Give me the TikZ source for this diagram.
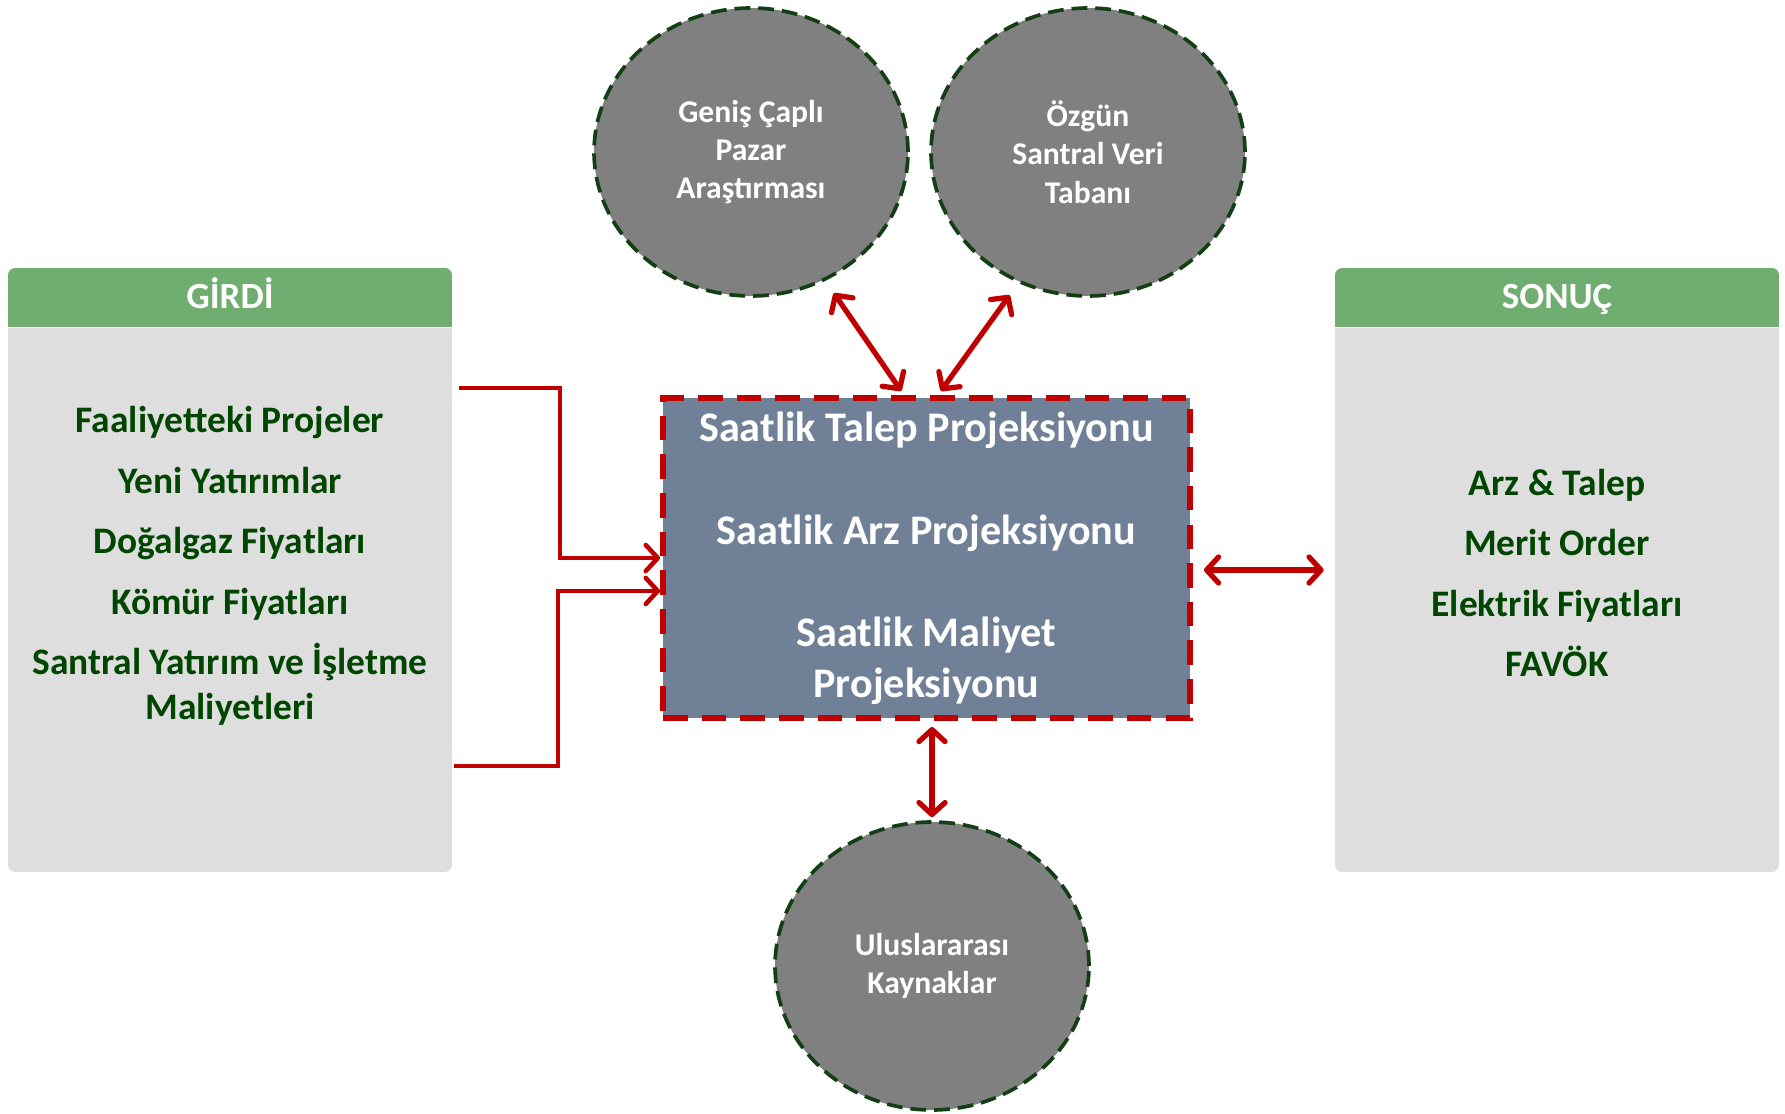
\documentclass[tikz,border=0pt]{standalone}
\usepackage{fontspec}
\setmainfont{Carlito}
\usetikzlibrary{arrows.meta}
\usetikzlibrary{positioning}
\usetikzlibrary{calc}
\usetikzlibrary{shapes.geometric}

\definecolor{koyukirmizi}{RGB}{192,0,0}
\definecolor{koyuyesil}{RGB}{0,69,0}
\definecolor{cizgiyesil}{RGB}{20,62,20}
\definecolor{baslikyesil}{RGB}{112,173,112}
\definecolor{panelgri}{RGB}{222,222,222}
\definecolor{kutugri}{RGB}{112,128,150}
\definecolor{dairegri}{RGB}{128,128,128}

\begin{document}
\begin{tikzpicture}[x=0.02cm,y=-0.02cm,font=\bfseries,
		>={Straight Barb[length=0.24cm,width=0.52cm,round]}]
		\tikzstyle{panel}=[fill=panelgri,rounded corners=0.14cm,minimum width=8.88cm,minimum height=12.08cm,inner sep=0]
		\tikzstyle{header}=[fill=baslikyesil,rounded corners=0.14cm,minimum width=8.88cm,minimum height=1.18cm,inner sep=0,text height=17pt,text depth=4pt,text=white,font=\bfseries\fontsize{21}{25}\selectfont]
		\tikzstyle{items}=[align=center,text=koyuyesil,font=\bfseries\fontsize{21.3}{25.6}\selectfont]
		\tikzstyle{source}=[ellipse,fill=dairegri,draw=cizgiyesil,line width=2.1pt,dash pattern=on 9pt off 4.5pt,minimum width=6.28cm,minimum height=5.76cm,inner sep=0,align=center,text=white,font=\bfseries\fontsize{18}{21.8}\selectfont]
		\tikzstyle{model}=[rectangle,fill=kutugri,draw=koyukirmizi,line width=3.4pt,dash pattern=on 14pt off 8pt,minimum width=10.54cm,minimum height=6.4cm,inner sep=0,align=center,text=white,font=\bfseries\fontsize{24}{28.5}\selectfont]
		\tikzstyle{twoway}=[<->,draw=koyukirmizi,line width=3pt,shorten <=0.3cm,shorten >=0.1cm]
		\tikzstyle{feed}=[->,draw=koyukirmizi,line width=2.6pt]
		
		\useasboundingbox (0,0) rectangle (1785,1114);
		
		\node[panel]  (girdi)   at (230,570)                 {};
		\node[panel]  (sonuc)   at (1557,570)                {};
		\fill[baslikyesil] ([yshift=-0.59cm]girdi.north west) rectangle ([yshift=-1.18cm]girdi.north east);
		\fill[baslikyesil] ([yshift=-0.59cm]sonuc.north west) rectangle ([yshift=-1.18cm]sonuc.north east);
		\node[header] (girdibas) [below=0pt of girdi.north]  {GİRDİ};
		\node[header] (sonucbas) [below=0pt of sonuc.north]  {SONUÇ};
		\draw[white,line width=1pt] (girdibas.south west) -- (girdibas.south east);
		\draw[white,line width=1pt] (sonucbas.south west) -- (sonucbas.south east);
		
		\node[items]  (girdiliste) at (230,566)  {Faaliyetteki Projeler\\[8.8pt] Yeni Yatırımlar\\[8.8pt] Doğalgaz Fiyatları\\[8.8pt] Kömür Fiyatları\\[8.8pt] Santral Yatırım ve İşletme\\ Maliyetleri};
		\node[items]  (sonucliste) at (1557,573) {Arz \& Talep\\[8.8pt] Merit Order\\[8.8pt] Elektrik Fiyatları\\[8.8pt] FAVÖK};
		
		\node[model]  (model)   at (926.5,558) {Saatlik Talep Projeksiyonu\\[30pt] Saatlik Arz Projeksiyonu\\[30pt] Saatlik Maliyet\\ Projeksiyonu};
		\node[source] (pazar)   at (751,152)   {Geniş Çaplı\\ Pazar\\ Araştırması};
		\node[source] (santral) at (1088,152)  {Özgün\\ Santral Veri\\ Tabanı};
		\node[source] (kaynak)  at (932,966)   {Uluslararası\\ Kaynaklar};
		
		\coordinate (in1) at (459,388);
		\coordinate (in2) at (454,766);
		\coordinate (k1)  at (560,450);
		\coordinate (k2)  at (558,680);
		\draw[feed] (in1) -| (k1) |- (model.west);
		\draw[feed] (in2) -| (k2) |- ([yshift=-0.66cm]model.west);
		
		\path (pazar.-60)   edge[twoway]                                  ([xshift=-0.45cm]model.north)
		(santral.-118)      edge[twoway]                                  ([xshift=0.23cm]model.north)
		(kaynak.north |- model.south) edge[twoway,shorten <=0.12cm,shorten >=0.06cm] (kaynak.north)
		(model.east |- sonuc.west)    edge[twoway,shorten <=0.22cm,shorten >=0.22cm] (sonuc.west);
		
\end{tikzpicture}
\end{document}
